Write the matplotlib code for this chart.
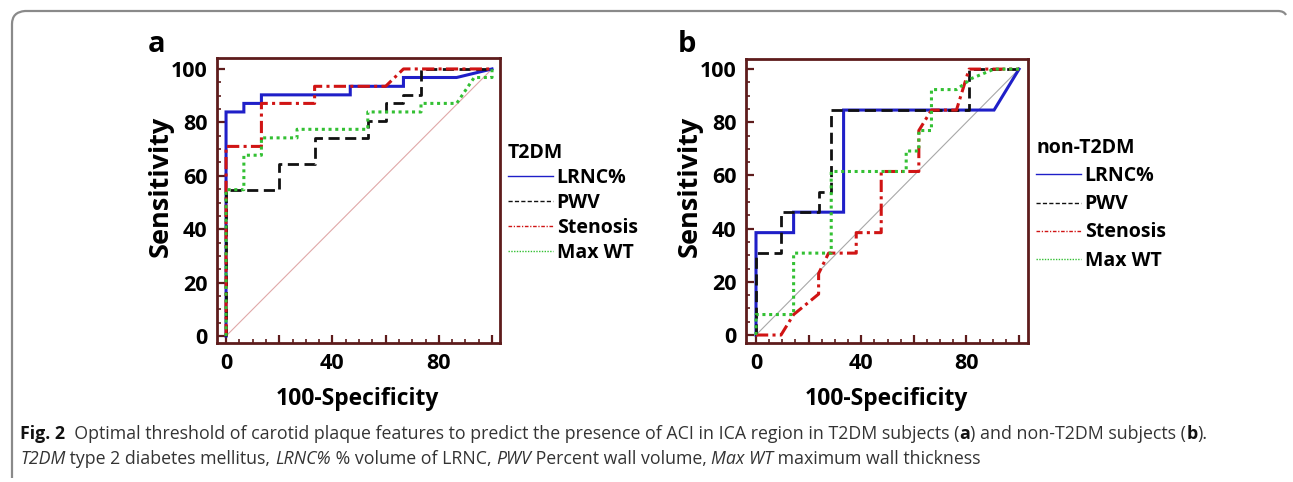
import matplotlib
matplotlib.use("Agg")
import matplotlib.pyplot as plt
from matplotlib.lines import Line2D
from matplotlib.path import Path
from matplotlib.patches import PathPatch
from matplotlib import font_manager

# ---------------- data ----------------
# Panel a: T2DM
lrnc_a_x = [0, 0, 6.7, 6.7, 13.3, 13.3, 46.7, 46.7, 66.7, 66.7, 86.7, 100]
lrnc_a_y = [0, 83.9, 83.9, 87.1, 87.1, 90.3, 90.3, 93.5, 93.5, 96.8, 96.8, 100]
pwv_a_x = [0, 0, 20, 20, 33.3, 33.3, 53.3, 53.3, 60, 60, 66.7, 66.7, 73.3, 73.3, 100]
pwv_a_y = [0, 54.8, 54.8, 64.5, 64.5, 74.2, 74.2, 80.6, 80.6, 87.1, 87.1, 90.3, 90.3, 100, 100]
sten_a_x = [0, 0, 13.3, 13.3, 33.3, 33.3, 60, 66.7, 100]
sten_a_y = [0, 71.0, 71.0, 87.1, 87.1, 93.5, 93.5, 100, 100]
wt_a_x = [0, 0, 6.7, 6.7, 13.3, 13.3, 26.7, 26.7, 53.3, 53.3, 73.3, 73.3, 86.7, 93.3, 100, 100]
wt_a_y = [0, 54.8, 54.8, 67.7, 67.7, 74.2, 74.2, 77.4, 77.4, 83.9, 83.9, 87.1, 87.1, 96.8, 96.8, 100]

# Panel b: non-T2DM
lrnc_b_x = [0, 0, 14.3, 14.3, 33.3, 33.3, 90.5, 100]
lrnc_b_y = [0, 38.5, 38.5, 46.2, 46.2, 84.6, 84.6, 100]
pwv_b_x = [0, 0, 9.5, 9.5, 23.8, 23.8, 28.6, 28.6, 81.0, 81.0, 100]
pwv_b_y = [0, 30.8, 30.8, 46.2, 46.2, 53.8, 53.8, 84.6, 84.6, 100, 100]
sten_b_x = [0, 9.5, 14.3, 23.8, 23.8, 27.6, 38.1, 38.1, 47.6, 47.6, 61.9, 61.9, 66.7, 76.2, 81.0, 100]
sten_b_y = [0, 0, 7.7, 15.4, 23.1, 30.8, 30.8, 38.5, 38.5, 61.5, 61.5, 76.9, 84.6, 84.6, 100, 100]
wt_b_x = [0, 0, 14.3, 14.3, 28.6, 28.6, 57.1, 57.1, 61.9, 61.9, 66.7, 66.7, 76.2, 82.0, 90.5, 100]
wt_b_y = [0, 7.7, 7.7, 30.8, 30.8, 61.5, 61.5, 69.2, 69.2, 76.9, 76.9, 92.3, 92.3, 96.5, 100, 100]

series_labels = ["LRNC%", "PWV", "Stenosis", "Max WT"]
legend_titles = ["T2DM", "non-T2DM"]
panel_letters = ["a", "b"]
xtick_vals = [0, 20, 40, 60, 80, 100]
xtick_labels = ["0", "", "40", "", "80", ""]
ytick_vals = [0, 20, 40, 60, 80, 100]
ytick_labels = ["0", "20", "40", "60", "80", "100"]

# ---------------- styling ----------------
W, H = 1293, 482
fig = plt.figure(figsize=(W / 100, H / 100), dpi=100)
FONT = "Open Sans"
FRAME = "#5e1c1c"

styles = [
    dict(color="#1f1fc8", lw=2.2, ls="-", lls="-"),
    dict(color="#111111", lw=2.0, ls=(0, (4.0, 2.0)), lls=(0, (3.0, 1.6))),
    dict(color="#d01414", lw=2.2, ls=(0, (4.0, 1.4, 1.0, 1.4)), lls=(0, (2.6, 1.2, 0.9, 1.2))),
    dict(color="#33c033", lw=2.2, ls=(0, (1.0, 1.2)), lls=(0, (1.0, 1.0))),
]


def px_axes(l, r, t, b):
    return [l / W, (H - b) / H, (r - l) / W, (b - t) / H]


panels = [
    dict(rect=px_axes(217, 500, 58, 343), xlim=(-3.4, 103.0), ylim=(-2.6, 104.1),
         data=[(lrnc_a_x, lrnc_a_y), (pwv_a_x, pwv_a_y), (sten_a_x, sten_a_y), (wt_a_x, wt_a_y)],
         diag="#e0a8a8", letter_xy=(148, 44), ylab_x=161, xlab_x=357,
         leg_anchor=(508, 143), legsp=0.26),
    dict(rect=px_axes(746, 1028, 59, 343), xlim=(-3.8, 103.4), ylim=(-3.0, 103.8),
         data=[(lrnc_b_x, lrnc_b_y), (pwv_b_x, pwv_b_y), (sten_b_x, sten_b_y), (wt_b_x, wt_b_y)],
         diag="#a8a8a8", letter_xy=(678, 44), ylab_x=690, xlab_x=886,
         leg_anchor=(1036, 138), legsp=0.42),
]

for i, p in enumerate(panels):
    ax = fig.add_axes(p["rect"])
    ax.set_xlim(*p["xlim"])
    ax.set_ylim(*p["ylim"])
    ax.plot([0, 100], [0, 100], color=p["diag"], lw=0.8, zorder=1)
    handles = []
    for (xs, ys), st, lab in zip(p["data"], styles, series_labels):
        ax.plot(xs, ys, color=st["color"], lw=st["lw"], linestyle=st["ls"],
                zorder=3, solid_joinstyle="miter")
        handles.append(Line2D([], [], color=st["color"], lw=1.0, linestyle=st["lls"], label=lab))
    for sp in ax.spines.values():
        sp.set_color(FRAME)
        sp.set_linewidth(2.0)
    ax.set_xticks(xtick_vals)
    ax.set_xticklabels(xtick_labels)
    ax.set_yticks(ytick_vals)
    ax.set_yticklabels(ytick_labels)
    ax.set_xticks(range(0, 101, 5), minor=True)
    ax.set_yticks(range(0, 101, 5), minor=True)
    ax.tick_params(which="both", direction="in", color=FRAME, top=False, right=False)
    ax.tick_params(which="major", length=6, width=1.6, pad=7)
    ax.tick_params(which="minor", length=3, width=1.2)
    for lab in ax.get_xticklabels() + ax.get_yticklabels():
        lab.set_fontfamily(FONT)
        lab.set_fontweight("bold")
        lab.set_fontsize(15.5)
        lab.set_color("black")
    # axis labels
    fig.text(p["ylab_x"] / W, 1 - 186 / H, "Sensitivity", rotation=90, ha="center", va="center",
             fontsize=19.5, fontweight="bold", family=FONT)
    fig.text(p["xlab_x"] / W, 1 - 399 / H, "100-Specificity", ha="center", va="center",
             fontsize=16.5, fontweight="bold", family=FONT)
    fig.text(p["letter_xy"][0] / W, 1 - p["letter_xy"][1] / H, panel_letters[i], ha="left", va="center",
             fontsize=21, fontweight="bold", family=FONT)
    leg = ax.legend(handles=handles, title=legend_titles[i], loc="upper left",
                    bbox_to_anchor=(p["leg_anchor"][0] / W, 1 - p["leg_anchor"][1] / H),
                    bbox_transform=fig.transFigure, frameon=False,
                    prop=dict(family=FONT, weight="bold", size=14),
                    title_fontproperties=dict(family=FONT, weight="bold", size=14),
                    handlelength=2.3, handletextpad=0.2, labelspacing=p["legsp"],
                    borderaxespad=0, borderpad=0, alignment="left")

# ---------------- border ----------------
def fpt(x, y):
    return (x / W, 1 - y / H)

verts = [fpt(12, 478), fpt(12, 24), fpt(12, 12), fpt(25, 11), fpt(1278, 11), fpt(1284, 11), fpt(1286, 15)]
codes = [Path.MOVETO, Path.LINETO, Path.CURVE3, Path.CURVE3, Path.LINETO, Path.CURVE3, Path.CURVE3]
fig.add_artist(PathPatch(Path(verts, codes), transform=fig.transFigure, fill=False,
                         edgecolor="#8a8a8a", lw=1.6))

# ---------------- caption ----------------
CAP_FONT = "Open Sans"
for cand in ["DejaVu Sans Condensed", "Liberation Sans Narrow", "Open Sans"]:
    try:
        font_manager.findfont(font_manager.FontProperties(family=cand), fallback_to_default=False)
        CAP_FONT = cand
        break
    except Exception:
        continue

cap1 = [("Fig. 2", "bold", "normal", "#111111"),
        ("  Optimal threshold of carotid plaque features to predict the presence of ACI in ICA region in T2DM subjects (", "normal", "normal", "#333333"),
        ("a", "bold", "normal", "#111111"),
        (") and non-T2DM subjects (", "normal", "normal", "#333333"),
        ("b", "bold", "normal", "#111111"),
        (").", "normal", "normal", "#333333")]
cap2 = [("T2DM", "normal", "italic", "#333333"),
        (" type 2 diabetes mellitus, ", "normal", "normal", "#333333"),
        ("LRNC%", "normal", "italic", "#333333"),
        (" % volume of LRNC, ", "normal", "normal", "#333333"),
        ("PWV", "normal", "italic", "#333333"),
        (" Percent wall volume, ", "normal", "normal", "#333333"),
        ("Max WT", "normal", "italic", "#333333"),
        (" maximum wall thickness", "normal", "normal", "#333333")]

renderer = fig.canvas.get_renderer()


def draw_line(pieces, x0, yc, size):
    x = x0
    texts = []
    for s, wgt, sty, col in pieces:
        t = fig.text(x / W, 1 - yc / H, s, ha="left", va="baseline", fontsize=size,
                     fontweight=wgt, fontstyle=sty, family=CAP_FONT, color=col)
        bb = t.get_window_extent(renderer)
        x += bb.width
        texts.append(t)
    return x, texts


end, tx = draw_line(cap1, 20, 439, 10)
scale = (1279 - 20) / (end - 20)
for t in tx:
    t.remove()
size = min(10 * scale, 12.8)
draw_line(cap1, 20, 439, size)
draw_line(cap2, 20, 464, size)

fig.savefig("out.png", dpi=100)
